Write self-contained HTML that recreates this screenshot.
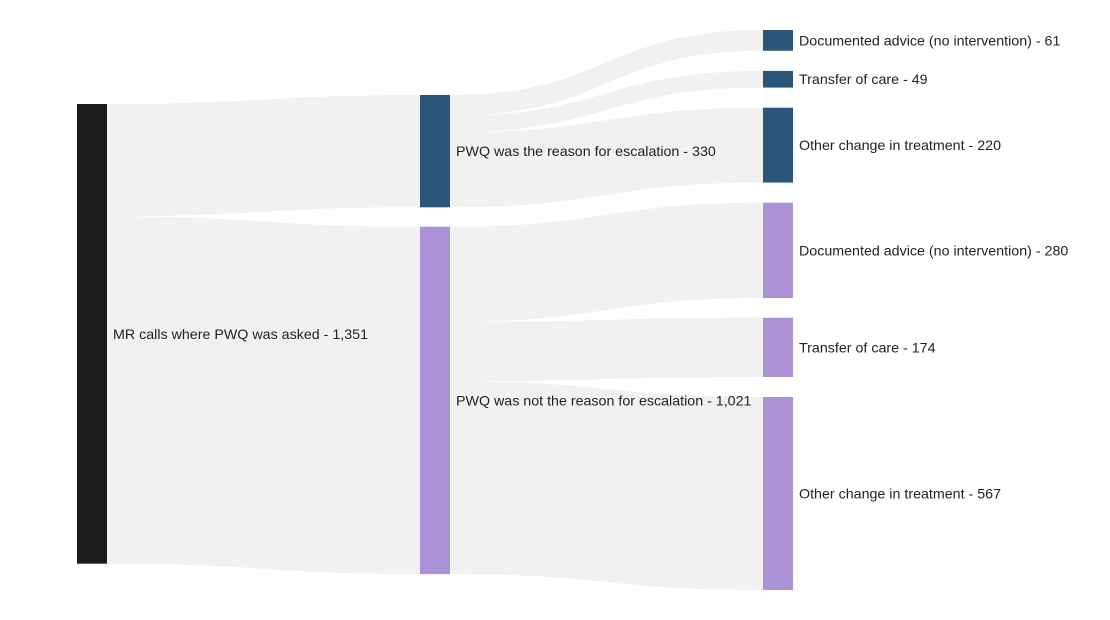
<!DOCTYPE html>
<html>
<head>
<meta charset="utf-8">
<style>
  html, body { margin: 0; padding: 0; background: #ffffff; }
  svg { display: block; }
  text { font-family: "Liberation Sans", Arial, sans-serif; font-size: 14.25px; fill: #222222; }
</style>
</head>
<body>
<svg width="1110" height="620" viewBox="0 0 1110 620" xmlns="http://www.w3.org/2000/svg">
  <g fill="#f1f1f1">
    <path d="M107 104 C263.5 104,263.5 95,420 95 L420 207.3 C263.5 207.3,263.5 216.3,107 216.3 Z"/>
    <path d="M107 216.3 C263.5 216.3,263.5 226.7,420 226.7 L420 574.1 C263.5 574.1,263.5 563.7,107 563.7 Z"/>
    <path d="M450 95 C606.5 95,606.5 30,763 30 L763 50.76 C606.5 50.76,606.5 115.76,450 115.76 Z"/>
    <path d="M450 115.76 C606.5 115.76,606.5 70.9,763 70.9 L763 87.57 C606.5 87.57,606.5 132.43,450 132.43 Z"/>
    <path d="M450 132.43 C606.5 132.43,606.5 107.7,763 107.7 L763 182.57 C606.5 182.57,606.5 207.3,450 207.3 Z"/>
    <path d="M450 226.7 C606.5 226.7,606.5 202.7,763 202.7 L763 298 C606.5 298,606.5 322,450 322 Z"/>
    <path d="M450 322 C606.5 322,606.5 317.8,763 317.8 L763 377 C606.5 377,606.5 381.2,450 381.2 Z"/>
    <path d="M450 381.2 C606.5 381.2,606.5 397,763 397 L763 590 C606.5 590,606.5 574.1,450 574.1 Z"/>
  </g>

  <rect x="77" y="104" width="30" height="459.7" fill="#1b1b1b"/>
  <rect x="420" y="95" width="30" height="112.3" fill="#2b5679"/>
  <rect x="420" y="226.7" width="30" height="347.4" fill="#ab92d6"/>

  <rect x="763" y="30" width="30" height="20.76" fill="#2b5679"/>
  <rect x="763" y="70.9" width="30" height="16.67" fill="#2b5679"/>
  <rect x="763" y="107.7" width="30" height="74.87" fill="#2b5679"/>

  <rect x="763" y="202.7" width="30" height="95.3" fill="#ab92d6"/>
  <rect x="763" y="317.8" width="30" height="59.2" fill="#ab92d6"/>
  <rect x="763" y="397" width="30" height="193" fill="#ab92d6"/>

  <text x="113" y="333.9" dy="0.35em">MR calls where PWQ was asked - 1,351</text>
  <text x="456" y="151.2" dy="0.35em">PWQ was the reason for escalation - 330</text>
  <text x="456" y="400.4" dy="0.35em">PWQ was not the reason for escalation - 1,021</text>

  <text x="799" y="40.4" dy="0.35em">Documented advice (no intervention) - 61</text>
  <text x="799" y="79.2" dy="0.35em">Transfer of care - 49</text>
  <text x="799" y="145.1" dy="0.35em">Other change in treatment - 220</text>
  <text x="799" y="250.3" dy="0.35em">Documented advice (no intervention) - 280</text>
  <text x="799" y="347.4" dy="0.35em">Transfer of care - 174</text>
  <text x="799" y="493.5" dy="0.35em">Other change in treatment - 567</text>
</svg>
</body>
</html>
